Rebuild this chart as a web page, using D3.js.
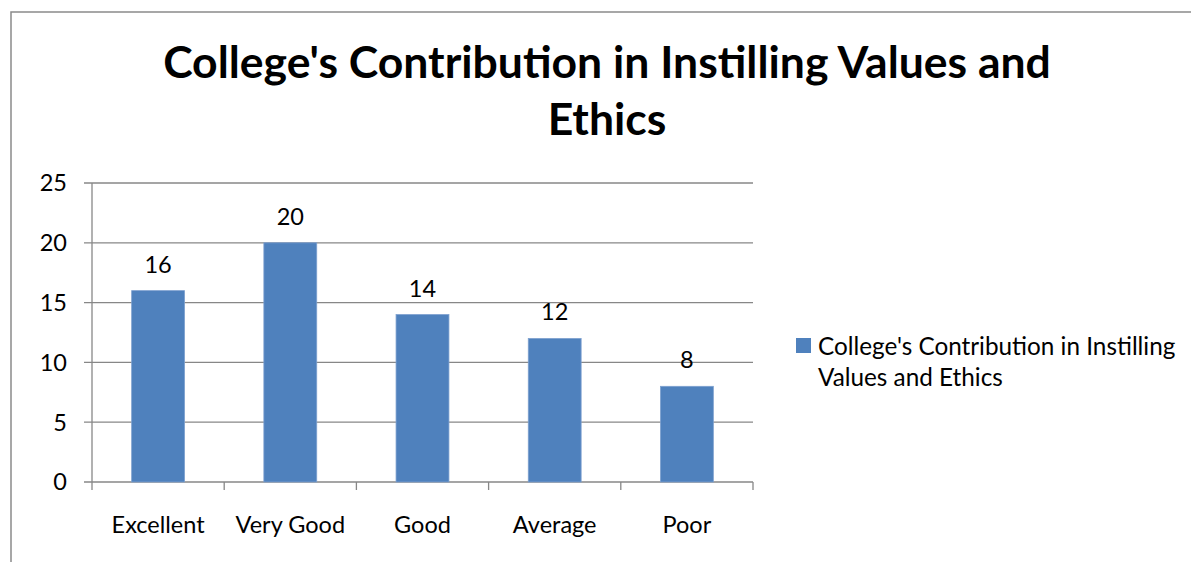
<!DOCTYPE html>
<html>
<head>
<meta charset="utf-8">
<script src="https://cdn.jsdelivr.net/npm/d3@7"></script>
<style>
  html, body { margin: 0; padding: 0; background: #fff; }
  svg { display: block; }
  text { font-family: Lato, "Open Sans", sans-serif; fill: #000; }
</style>
</head>
<body>
<svg id="chart" width="1191" height="562"></svg>
<script>
const categories = ["Excellent", "Very Good", "Good", "Average", "Poor"];
const values = [16, 20, 14, 12, 8];
const yTicks = [0, 5, 10, 15, 20, 25];
const titleLines = ["College's Contribution in Instilling Values and", "Ethics"];
const seriesName = ["College's Contribution in Instilling", "Values and Ethics"];

const svg = d3.select("#chart");
const W = 1191, H = 562;
const plot = { left: 92, right: 753, top: 183, bottom: 482 };
const barColor = "#4F81BD";
const gridColor = "#878787";
const fs = 23.5;

// outer chart border (extends beyond the picture on right & bottom)
svg.append("rect")
  .attr("x", 11).attr("y", 12)
  .attr("width", W + 20).attr("height", H + 20)
  .attr("fill", "none").attr("stroke", "#8a8a8a").attr("stroke-width", 1.5);

const x = d3.scaleBand().domain(categories)
  .range([plot.left, plot.right]).paddingInner(0.6).paddingOuter(0.3);
const y = d3.scaleLinear().domain([0, 25]).range([plot.bottom, plot.top]);

// gridlines
svg.append("g").selectAll("line").data(yTicks).join("line")
  .attr("x1", plot.left - 8).attr("x2", plot.right)
  .attr("y1", d => y(d)).attr("y2", d => y(d))
  .attr("stroke", gridColor).attr("stroke-width", 1.3);

// y axis line
svg.append("line")
  .attr("x1", plot.left).attr("x2", plot.left)
  .attr("y1", y(25)).attr("y2", y(0))
  .attr("stroke", gridColor).attr("stroke-width", 1.3);

// x tick marks at category boundaries
const step = x.step();
const boundaries = d3.range(categories.length + 1).map(i => plot.left + i * step);
svg.append("g").selectAll("line").data(boundaries).join("line")
  .attr("x1", d => d).attr("x2", d => d)
  .attr("y1", y(0)).attr("y2", y(0) + 8)
  .attr("stroke", gridColor).attr("stroke-width", 1.3);

// y labels
svg.append("g").selectAll("text").data(yTicks).join("text")
  .attr("x", 67).attr("y", d => y(d)).attr("dy", "0.36em")
  .attr("text-anchor", "end").attr("font-size", fs)
  .text(d => d);

// bars
svg.append("g").selectAll("rect").data(values).join("rect")
  .attr("x", (d, i) => x(categories[i]))
  .attr("y", d => y(d))
  .attr("width", x.bandwidth())
  .attr("height", d => y(0) - y(d))
  .attr("fill", barColor)
  .attr("stroke", "#7da0cf").attr("stroke-width", 0.8);

// data labels
svg.append("g").selectAll("text").data(values).join("text")
  .attr("x", (d, i) => x(categories[i]) + x.bandwidth() / 2)
  .attr("y", d => y(d) - 18)
  .attr("text-anchor", "middle").attr("font-size", fs)
  .text(d => d);

// x labels
svg.append("g").selectAll("text").data(categories).join("text")
  .attr("x", d => x(d) + x.bandwidth() / 2)
  .attr("y", 533)
  .attr("text-anchor", "middle").attr("font-size", fs)
  .text(d => d);

// title
svg.append("g").selectAll("text").data(titleLines).join("text")
  .attr("x", 607).attr("y", (d, i) => 78 + i * 57)
  .attr("text-anchor", "middle").attr("font-size", 44.5).attr("font-weight", "bold")
  .text(d => d);

// legend
svg.append("rect")
  .attr("x", 796).attr("y", 338).attr("width", 15).attr("height", 15)
  .attr("fill", barColor);
svg.append("g").selectAll("text").data(seriesName).join("text")
  .attr("x", 818).attr("y", (d, i) => 355 + i * 31)
  .attr("font-size", fs + 0.8)
  .text(d => d);
</script>
</body>
</html>
